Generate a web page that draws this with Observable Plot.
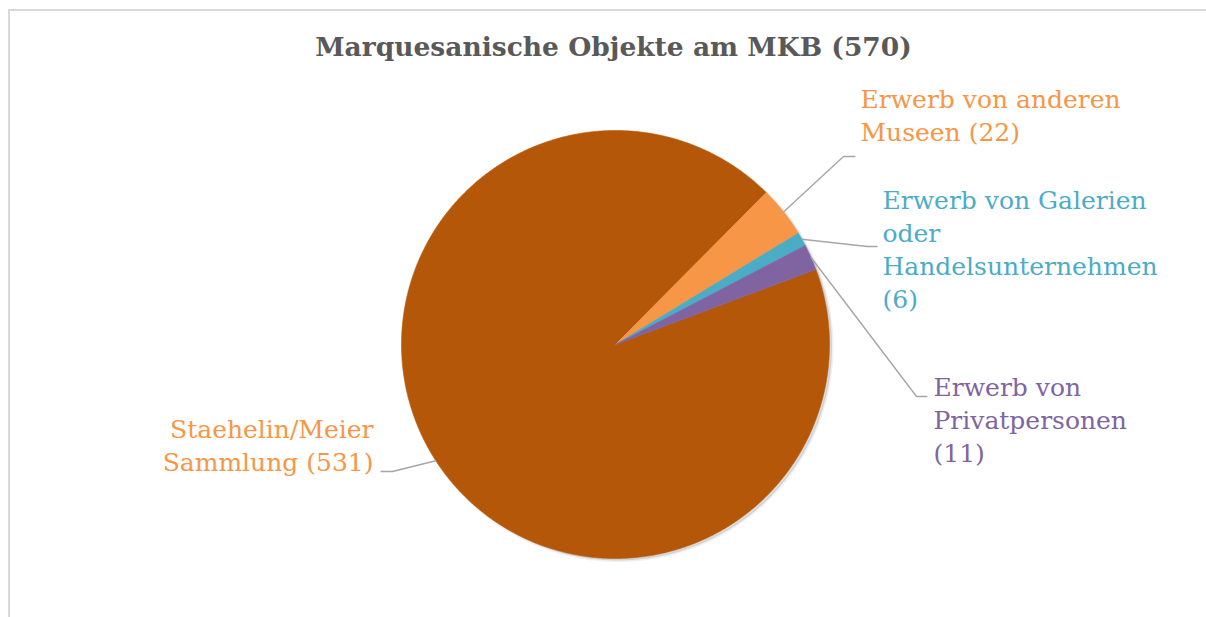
<!DOCTYPE html>
<html>
<head>
<meta charset="utf-8">
<script src="https://cdn.jsdelivr.net/npm/d3@7"></script>
<script src="https://cdn.jsdelivr.net/npm/@observablehq/plot@0.6"></script>
<style>
  html, body { margin: 0; padding: 0; background: #fff; }
  #wrap { position: relative; width: 1206px; height: 617px; overflow: hidden; }
  #frame { position: absolute; left: 8px; top: 9px; right: -10px; bottom: -10px;
           border-top: 2px solid #d9d9d9; border-left: 2px solid #d9d9d9; pointer-events: none; }
  #chart { position: absolute; left: 0; top: 0; }
</style>
</head>
<body>
<div id="wrap"><div id="chart"></div><div id="frame"></div></div>
<script>
// ---- data ----
const title = "Marquesanische Objekte am MKB (570)";
const categories = ["Staehelin/Meier Sammlung", "Erwerb von anderen Museen", "Erwerb von Galerien oder Handelsunternehmen", "Erwerb von Privatpersonen"];
const values = [531, 22, 6, 11];
const labels = ["Staehelin/Meier\nSammlung (531)", "Erwerb von anderen\nMuseen (22)", "Erwerb von Galerien\noder\nHandelsunternehmen\n(6)", "Erwerb von\nPrivatpersonen\n(11)"];

// ---- styles / layout ----
const sliceColors = ["#B55708", "#F79646", "#4BACC6", "#8064A2"];
const labelColors = ["#F79646", "#F79646", "#4BACC6", "#8064A2"];
const W = 1206, H = 617;
const cx = 615, cy = 344, R = 214;
const startDeg = 69.4;
const fs = 25, lh = 33;
// label text anchor (x, first baseline), leader elbow and end
const labelLayout = [
  {x: 373, base: 432, anchor: "end",   elbow: [392, 471], end: [380, 471]},
  {x: 860, base: 102, anchor: "start", elbow: [843, 156], end: [855, 156]},
  {x: 882, base: 203, anchor: "start", elbow: [867, 246], end: [877, 246]},
  {x: 933, base: 390, anchor: "start", elbow: [916, 396], end: [927, 396]}
];

const start = startDeg * Math.PI / 180;
const arcs = d3.pie().sort(null).value(d => d.value).startAngle(start).endAngle(start + 2 * Math.PI)(
  categories.map((c, i) => ({cat: c, value: values[i], i}))
);
const pt = (a, r) => [cx + r * Math.sin(a), cy - r * Math.cos(a)];

// wedge polygons, one array per slice
const wedges = arcs.map(a => {
  const pts = [{x: cx, y: cy}];
  const n = Math.max(4, Math.ceil((a.endAngle - a.startAngle) / (Math.PI / 360)));
  for (let k = 0; k <= n; k++) {
    const ang = a.startAngle + (a.endAngle - a.startAngle) * k / n;
    const [x, y] = pt(ang, R);
    pts.push({x, y});
  }
  return {pts, color: sliceColors[a.data.i]};
});
// soft shadow outline (full circle)
const shadowPts = d3.range(0, 721).map(k => {
  const [x, y] = pt(k * Math.PI / 360, R);
  return {x, y};
});

// leader lines
const leaderPts = [];
arcs.forEach(a => {
  const i = a.data.i, L = labelLayout[i];
  const mid = (a.startAngle + a.endAngle) / 2;
  const [x0, y0] = pt(mid, R);
  leaderPts.push({cat: a.data.cat, x: x0, y: y0});
  leaderPts.push({cat: a.data.cat, x: L.elbow[0], y: L.elbow[1]});
  leaderPts.push({cat: a.data.cat, x: L.end[0], y: L.end[1]});
});

const labelData = categories.map((c, i) => ({
  cat: c, text: labels[i], color: labelColors[i],
  x: labelLayout[i].x, y: labelLayout[i].base - 0.71 * fs, anchor: labelLayout[i].anchor
}));

const chart = Plot.plot({
  width: W, height: H,
  margin: 0,
  x: {type: "linear", domain: [0, W], range: [0, W], axis: null},
  y: {type: "linear", domain: [0, H], range: [0, H], axis: null},
  color: {type: "identity"},
  style: {background: "transparent", fontFamily: "DejaVu Serif"},
  marks: [
    Plot.line(shadowPts, {x: "x", y: "y", dx: 2.5, dy: 2, fill: "#000", fillOpacity: 0.12, stroke: "#000",
      strokeOpacity: 0.06, strokeWidth: 3, curve: "linear-closed"}),
    ...wedges.map(w => Plot.line(w.pts, {x: "x", y: "y", fill: w.color, stroke: w.color, strokeWidth: 0.6,
      curve: "linear-closed"})),
    Plot.line(leaderPts, {x: "x", y: "y", z: "cat", stroke: "#a6a6a6", strokeWidth: 1.4,
      strokeLinecap: "butt", strokeLinejoin: "miter"}),
    Plot.text(labelData.filter(d => d.anchor === "start"), {x: "x", y: "y", text: "text", fill: "color",
      textAnchor: "start", lineAnchor: "top", lineHeight: lh / fs, fontSize: fs, fontFamily: "DejaVu Serif"}),
    Plot.text(labelData.filter(d => d.anchor === "end"), {x: "x", y: "y", text: "text", fill: "color",
      textAnchor: "end", lineAnchor: "top", lineHeight: lh / fs, fontSize: fs, fontFamily: "DejaVu Serif"}),
    Plot.text([title], {x: () => 613, y: () => 55, text: d => d, fill: "#595959", fontSize: 26.5,
      fontWeight: "bold", fontFamily: "DejaVu Serif", textAnchor: "middle", lineAnchor: "bottom"})
  ]
});
document.getElementById("chart").appendChild(chart);
</script>
</body>
</html>
